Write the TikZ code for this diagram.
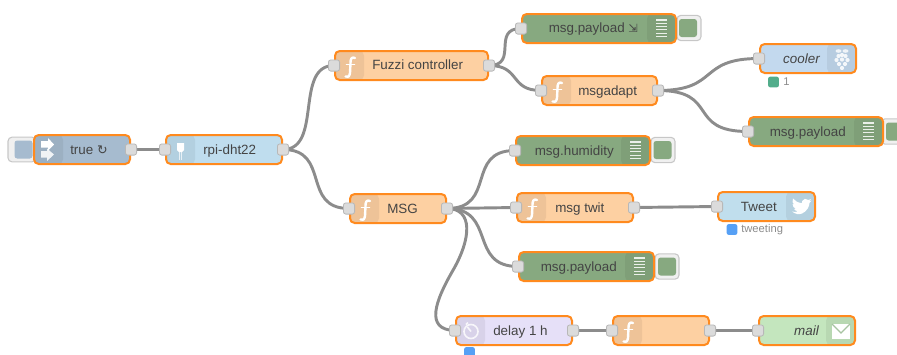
\documentclass[tikz,border=0pt]{standalone}
\usepackage{fontspec}
\setmainfont{Liberation Sans}
\newfontfamily\symfont{DejaVu Sans}
\pgfdeclarelayer{wires}
\pgfsetlayers{wires,main}
\definecolor{nrorange}{HTML}{FF8A1E}
\definecolor{nrtext}{HTML}{444444}
\definecolor{nrwire}{HTML}{8C8C8C}
\definecolor{cinject}{HTML}{A6BBCF}
\definecolor{crpi}{HTML}{BFDDEE}
\definecolor{cfunc}{HTML}{FDD0A2}
\definecolor{cdebug}{HTML}{87A980}
\definecolor{cdelay}{HTML}{E6E0F8}
\definecolor{cmail}{HTML}{C4E6BE}
\definecolor{ccool}{HTML}{C3D9EE}
\definecolor{ctweet}{HTML}{C0DEED}
\definecolor{cstatgreen}{HTML}{52AD8B}
\definecolor{cstatblue}{HTML}{56A0F5}
\tikzset{
  x=0.75pt,y=-0.75pt,
  nrbody/.style={rectangle,draw=nrorange,line width=1.5pt,rounded corners=3.5pt,inner sep=0pt},
  bandleft/.style={path picture={\fill[black,opacity=.06] (path picture bounding box.north west) rectangle ([xshift=21.75pt]path picture bounding box.south west);}},
  bandright/.style={path picture={\fill[black,opacity=.06] (path picture bounding box.north east) rectangle ([xshift=-21.75pt]path picture bounding box.south east);}},
  nrlabel/.style={inner sep=0pt,text=nrtext,font=\fontsize{10.05pt}{12pt}\selectfont},
  nrport/.style={rectangle,fill=black!14,draw=black!28,line width=.6pt,rounded corners=1.8pt,minimum size=8.4pt,inner sep=0pt},
  nrwirestyle/.style={draw=nrwire,line width=2.2pt,line cap=round},
  nrbutton/.style={rectangle,fill=black!6,draw=black!22,line width=.8pt,rounded corners=3pt,inner sep=0pt},
  nrbuttoninner/.style={rectangle,rounded corners=2pt,inner sep=0pt,minimum size=13.5pt},
  statusdot/.style={rectangle,rounded corners=1.5pt,minimum size=8pt,inner sep=0pt},
  statuslabel/.style={inner sep=0pt,text=black!45,font=\fontsize{8.4pt}{10pt}\selectfont},
  iconline/.style={draw=white,line width=1.8pt,line cap=round,line join=round},
  iconthin/.style={draw=white,line width=.9pt,opacity=.8},
}
% name, x1, y1, x2, y2, colour, band style
\newcommand{\nrbox}[7]{%
  \node[nrbody,fill=#6,#7,minimum width={(#4-#2)*0.75pt},minimum height={(#5-#3)*0.75pt}] (#1) at ({(#2+#4)/2},{(#3+#5)/2}) {};}
\newcommand{\nrin}[1]{\node[nrport] (#1-i) at (#1.west) {};}
\newcommand{\nrout}[1]{\node[nrport] (#1-o) at (#1.east) {};}
% function icon at the node's top-left corner
\newcommand{\iconf}[2]{\begin{scope}[shift={(#1,#2)}]
  \draw[iconline] (20,7) .. controls (16.5,5.5) and (15.5,8) .. (15.5,12) -- (15,22) .. controls (14.5,26) and (12.5,26.5) .. (10.5,25.5);
  \draw[iconline,line width=1.2pt] (11.5,13.5) -- (19.5,13.5);
\end{scope}}
% debug list icon, left edge of the band
\newcommand{\icondebug}[2]{\begin{scope}[shift={(#1,#2)}]
  \foreach \yy in {6,9.3,12.6,15.9,19.2,22.5} {\draw[draw=white,line width=.85pt,opacity=.85] (9,\yy) -- (20,\yy);}
\end{scope}}
\begin{document}
\begin{tikzpicture}
\clip (0,0) rectangle (897,354);
% buttons behind the nodes
\node[nrbutton,minimum width=21pt,minimum height=18.5pt] (btnA) at (22,149.5) {};
\node[nrbuttoninner,fill=cinject] (btnAi) at (23.5,149.5) {};
\node[nrbutton,minimum width=18pt,minimum height=19pt] (btnB) at (689,28) {};
\node[nrbuttoninner,fill=cdebug] (btnBi) at (688,28) {};
\node[nrbutton,minimum width=18pt,minimum height=19pt] (btnC) at (893,131.5) {};
\node[nrbuttoninner,fill=cdebug] (btnCi) at (895,131.5) {};
\node[nrbutton,minimum width=18pt,minimum height=19pt] (btnD) at (663,150) {};
\node[nrbuttoninner,fill=cdebug] (btnDi) at (662.5,150) {};
\node[nrbutton,minimum width=18pt,minimum height=19pt] (btnE) at (667,266.5) {};
\node[nrbuttoninner,fill=cdebug] (btnEi) at (667,266.5) {};
% node bodies
\nrbox{inject}{34}{135}{130}{164}{cinject}{bandleft}
\nrbox{rpi}{166}{135}{282}{164}{crpi}{bandleft}
\nrbox{fuzzi}{335}{51}{488}{80}{cfunc}{bandleft}
\nrbox{dbgtop}{522}{14}{676}{43}{cdebug}{bandright}
\nrbox{adapt}{542}{76}{657}{105}{cfunc}{bandleft}
\nrbox{cooler}{760}{44}{856}{73}{ccool}{bandright}
\nrbox{dbgright}{749}{117}{883}{146}{cdebug}{bandright}
\nrbox{humid}{516}{136}{650}{165}{cdebug}{bandright}
\nrbox{twit}{517}{193}{633}{222}{cfunc}{bandleft}
\nrbox{tweet}{718}{192}{815}{221}{ctweet}{bandright}
\nrbox{msgf}{350}{194}{446}{223}{cfunc}{bandleft}
\nrbox{dbgbot}{519}{252}{654}{281}{cdebug}{bandright}
\nrbox{delay}{456}{316}{572}{345}{cdelay}{bandleft}
\nrbox{blank}{613}{316}{709}{345}{cfunc}{bandleft}
\nrbox{mail}{759}{316}{855}{345}{cmail}{bandright}
% ports
\nrout{inject}
\nrin{rpi}\nrout{rpi}
\nrin{fuzzi}\nrout{fuzzi}
\nrin{dbgtop}
\nrin{adapt}\nrout{adapt}
\nrin{cooler}
\nrin{dbgright}
\nrin{humid}
\nrin{twit}\nrout{twit}
\nrin{tweet}
\nrin{msgf}\nrout{msgf}
\nrin{dbgbot}
\nrin{delay}\nrout{delay}
\nrin{blank}\nrout{blank}
\nrin{mail}
% wires
\coordinate (bendA) at (452,272);
\begin{pgfonlayer}{wires}
\draw[nrwirestyle] (inject-o.center) -- (rpi-i.center);
\draw[nrwirestyle] (rpi-o.center) .. controls +(40,0) and +(-40,0) .. (fuzzi-i.center);
\draw[nrwirestyle] (rpi-o.center) .. controls +(48,0) and +(-48,0) .. (msgf-i.center);
\draw[nrwirestyle] (fuzzi-o.center) .. controls +(30,0) and +(-30,0) .. (dbgtop-i.center);
\draw[nrwirestyle] (fuzzi-o.center) .. controls +(32,0) and +(-32,0) .. (adapt-i.center);
\draw[nrwirestyle] (adapt-o.center) .. controls +(62,0) and +(-62,0) .. (cooler-i.center);
\draw[nrwirestyle] (adapt-o.center) .. controls +(62,0) and +(-62,0) .. (dbgright-i.center);
\draw[nrwirestyle] (msgf-o.center) .. controls +(50,0) and +(-50,0) .. (humid-i.center);
\draw[nrwirestyle] (msgf-o.center) -- (twit-i.center);
\draw[nrwirestyle] (msgf-o.center) .. controls +(50,0) and +(-50,0) .. (dbgbot-i.center);
\draw[nrwirestyle] (twit-o.center) -- (tweet-i.center);
\draw[nrwirestyle] (msgf-o.center) .. controls +(26,0) and (472,238) .. (bendA) .. controls (436,300) and (424,330) .. (delay-i.center);
\draw[nrwirestyle] (delay-o.center) -- (blank-i.center);
\draw[nrwirestyle] (blank-o.center) -- (mail-i.center);
\end{pgfonlayer}
% labels
\node[nrlabel,anchor=base west] (tinject) at (70,154) {true {\symfont\fontsize{9.5pt}{12pt}\selectfont ↻}};
\node[nrlabel,anchor=base west] (trpi) at (203,154) {rpi-dht22};
\node[nrlabel,anchor=base west] (tfuzzi) at (372,69.5) {Fuzzi controller};
\node[nrlabel,anchor=base east] (tdbgtop) at (625,32.5) {msg.payload};
\node[nrlabel,anchor=base west] (tarrow) at (628,32.5) {{\symfont\fontsize{8.5pt}{12pt}\selectfont ⇲}};
\node[nrlabel,anchor=base west] (tadapt) at (578,95) {msgadapt};
\node[nrlabel,anchor=base east] (tcooler) at (820,63) {\itshape cooler};
\node[nrlabel,anchor=base east] (tdbgright) at (846,136) {msg.payload};
\node[nrlabel,anchor=base east] (thumid) at (614,155) {msg.humidity};
\node[nrlabel,anchor=base west] (ttwit) at (555,212) {msg twit};
\node[nrlabel,anchor=base east] (ttweet) at (777,211) {Tweet};
\node[nrlabel,anchor=base west] (tmsgf) at (387,213) {MSG};
\node[nrlabel,anchor=base east] (tdbgbot) at (617,271) {msg.payload};
\node[nrlabel,anchor=base west] (tdelay) at (493,335) {delay 1 h};
\node[nrlabel,anchor=base east] (tmail) at (819,335) {\itshape mail};
% status
\node[statusdot,fill=cstatgreen] (s1) at (773.5,82) {};
\node[statuslabel,anchor=west] (s1t) at (783,82) {1};
\node[statusdot,fill=cstatblue] (s2) at (732,229.5) {};
\node[statuslabel,anchor=west] (s2t) at (741,229.5) {tweeting};
\node[statusdot,fill=cstatblue] (s3) at (469.5,352.5) {};
% icons
\iconf{335}{51}\iconf{542}{76}\iconf{517}{193}\iconf{350}{194}\iconf{613}{316}
\icondebug{647}{14}\icondebug{854}{117}\icondebug{621}{136}\icondebug{625}{252}
% inject
\begin{scope}[shift={(34,135)}]
  \fill[white] (7,6) -- (14,6) -- (14,3) -- (20,9.5) -- (14,15.5) -- (14,12.5) -- (7,12.5) -- cycle;
  \fill[white,opacity=.85] (7,16) -- (13,16) -- (13,13.5) -- (20,19.5) -- (13,26) -- (13,22.5) -- (7,22.5) -- cycle;
\end{scope}
% rpi gpio icon
\begin{scope}[shift={(166,135)}]
  \fill[white] (11,8) -- (18,8) -- (18,15) -- (16,17) -- (13,17) -- (11,15) -- cycle;
  \draw[white,opacity=.7,line width=.5pt] (13.5,17) -- (13.5,25) (15.5,17) -- (15.5,25);
\end{scope}
% raspberry
\begin{scope}[shift={(827,44)}]
  \fill[white,opacity=.8] (11.5,7) ellipse (3 and 1.8);
  \fill[white,opacity=.8] (18.5,7) ellipse (3 and 1.8);
  \foreach \cx/\cy in {15/11,11.5/12,18.5/12,9.5/16,15/15.5,20.5/16,12/20,18/20,15/24}
    {\fill[white,opacity=.85] (\cx,\cy) circle (2.1);}
\end{scope}
% twitter bird
\begin{scope}[shift={(786,192)}]
  \fill[white] (6,19.5) .. controls (9,22) and (13,23) .. (16,21.5) .. controls (21,19.5) and (23.5,14) .. (23.5,11) -- (25.5,8.5) -- (23,9.5) -- (25,7) -- (22.5,8) .. controls (20.5,6) and (17,6.5) .. (16.2,9) -- (16,11) .. controls (12,11) and (9,9) .. (7,6.5) .. controls (5.5,9) and (7,11.5) .. (8,12.5) -- (6.5,12) .. controls (6.5,14.5) and (8,16) .. (10,16.7) -- (8,16.8) .. controls (9,18.3) and (10,19) .. (12,19.3) .. controls (10,20.3) and (8,20) .. (6,19.5) -- cycle;
\end{scope}
% envelope
\begin{scope}[shift={(826,316)}]
  \fill[white] (6,8) rectangle (24,23);
  \draw[cmail!85!black,line width=.9pt] (6,8) -- (15,17) -- (24,8);
\end{scope}
% timer
\begin{scope}[shift={(456,316)}]
  \draw[iconthin,line width=1.2pt] (15,15.5) circle (7);
  \draw[iconthin,line width=1.2pt] (12,6.5) -- (10,8.5);
  \draw[iconthin,line width=1.2pt] (15,15.5) -- (11.5,11);
\end{scope}
\end{tikzpicture}
\end{document}
